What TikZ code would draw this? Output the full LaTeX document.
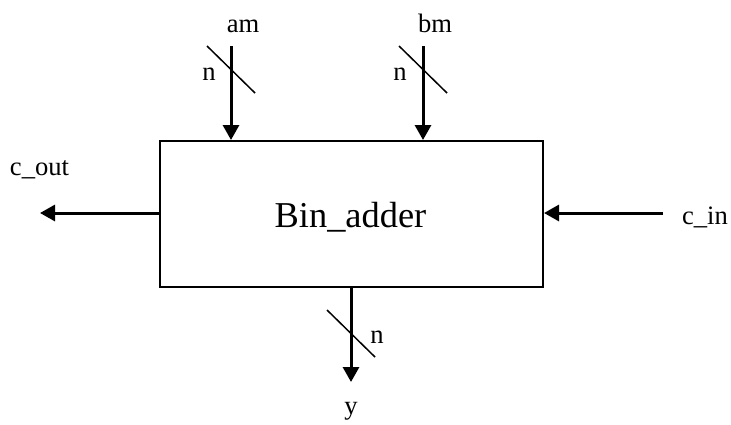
\documentclass[tikz,border=0pt]{standalone}
\usepackage{fontspec}
\setmainfont{Liberation Serif}
\usetikzlibrary{positioning,arrows.meta,calc}
\tikzset{
  sig/.style={line width=1.5pt, -{Triangle[length=7.5pt,width=8pt]}},
  slash/.style={line width=0.75pt},
  lbl/.style={font=\fontsize{13.3}{15}\selectfont, anchor=base, inner sep=0pt},
  blk/.style={draw, line width=1pt, minimum width=191.5pt, minimum height=73pt, inner sep=0pt},
}

\begin{document}
\begin{tikzpicture}[x=0.5pt,y=-0.5pt]
\useasboundingbox (0,0) rectangle (731,424);
% the block
\node[blk] (adder) at (351.5,214) {};
\node[anchor=base, inner sep=0pt, font=\fontsize{18.2}{21}\selectfont] (name) at (350.5,227) {Bin\_adder};
% inputs on top
\coordinate (amIn) at (231,46);
\coordinate (bmIn) at (423,46);
\draw[sig] (amIn) -- (amIn |- adder.north);
\draw[sig] (bmIn) -- (bmIn |- adder.north);
\draw[slash] (207,46) -- (255,93);
\draw[slash] (399,46) -- (447,93);
\node[lbl] (am) at (243,32) {am};
\node[lbl] (bm) at (435,32) {bm};
\node[lbl] (amN) at (209,80) {n};
\node[lbl] (bmN) at (400,80) {n};
% carries
\coordinate (cOut) at (40,213);
\coordinate (cIn) at (663,213);
\draw[sig] (adder.west |- cOut) -- (cOut);
\draw[sig] (cIn) -- (adder.east |- cIn);
\node[lbl] (cout) at (39.5,175) {c\_out};
\node[lbl] (cin) at (705,224) {c\_in};
% output
\coordinate (yOut) at (351,382);
\draw[sig] (adder.south -| yOut) -- (yOut);
\draw[slash] (327,310) -- (375,357);
\node[lbl] (yN) at (377,343) {n};
\node[lbl] (y) at (351,414) {y};
\end{tikzpicture}
\end{document}
